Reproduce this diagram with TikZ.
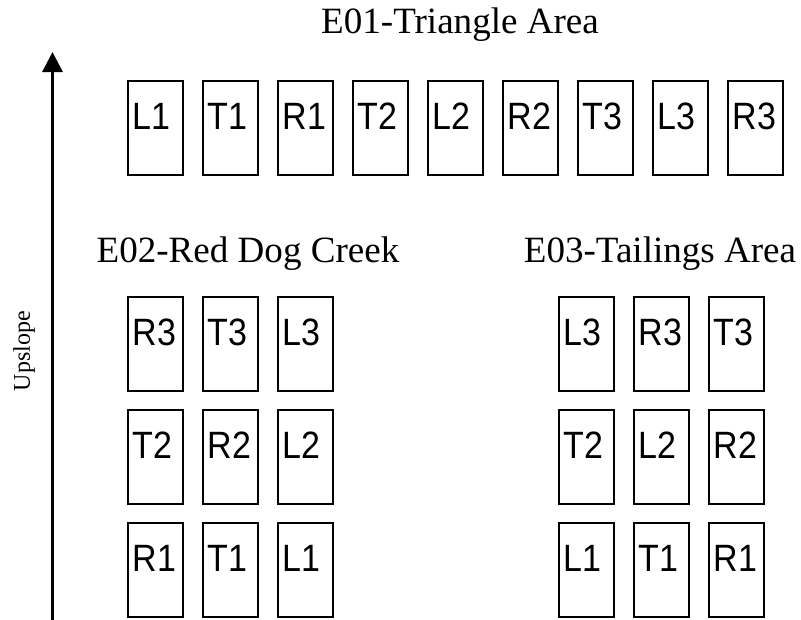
\documentclass[tikz,border=0pt]{standalone}
\usepackage{fontspec}
\setmainfont{Liberation Serif}
\newfontfamily\labfont{Liberation Sans}
\usetikzlibrary{arrows.meta}
\tikzset{
  plotbox/.style={draw=black, line width=1.2pt, rectangle, anchor=north west,
    inner xsep=3.6pt, inner ysep=0pt, text width=34.2pt, align=left,
    text height=36.75pt, text depth=33.75pt,
    font=\labfont\fontsize{25.5}{25.5}\selectfont},
  titletext/.style={font=\fontsize{27.8}{28}\selectfont, anchor=base},
  sidetext/.style={font=\fontsize{18}{18}\selectfont, rotate=90},
  slopearrow/.style={line width=2.2pt, -{Triangle[length=15pt,width=15pt]}}
}
\newcommand{\lab}[1]{\scalebox{1}[1.12]{#1}}
\begin{document}
\begin{tikzpicture}[x=0.75pt,y=-0.75pt]
\useasboundingbox (0,0) rectangle (801,619);
% titles
\node[titletext] (t1) at (460,33) {E01-Triangle Area};
\node[titletext] (t2) at (248,262) {E02-Red Dog Creek};
\node[titletext] (t3) at (660,262) {E03-Tailings Area};
% upslope arrow
\coordinate (abot) at (52.5,621);
\coordinate (atop) at (52.5,52);
\draw[slopearrow] (abot) -- (atop);
\node[sidetext] (up) at (24,351) {Upslope};
% E01 row
\node[plotbox] (a1) at (127,80) {\lab{L1}};
\node[plotbox] (a2) at (202,80) {\lab{T1}};
\node[plotbox] (a3) at (277,80) {\lab{R1}};
\node[plotbox] (a4) at (352,80) {\lab{T2}};
\node[plotbox] (a5) at (427,80) {\lab{L2}};
\node[plotbox] (a6) at (502,80) {\lab{R2}};
\node[plotbox] (a7) at (577,80) {\lab{T3}};
\node[plotbox] (a8) at (652,80) {\lab{L3}};
\node[plotbox] (a9) at (727,80) {\lab{R3}};
% E02 grid
\node[plotbox] (b1) at (127,296) {\lab{R3}};
\node[plotbox] (b2) at (202,296) {\lab{T3}};
\node[plotbox] (b3) at (277,296) {\lab{L3}};
\node[plotbox] (b4) at (127,409) {\lab{T2}};
\node[plotbox] (b5) at (202,409) {\lab{R2}};
\node[plotbox] (b6) at (277,409) {\lab{L2}};
\node[plotbox] (b7) at (127,522) {\lab{R1}};
\node[plotbox] (b8) at (202,522) {\lab{T1}};
\node[plotbox] (b9) at (277,522) {\lab{L1}};
% E03 grid
\node[plotbox] (c1) at (558,296) {\lab{L3}};
\node[plotbox] (c2) at (633,296) {\lab{R3}};
\node[plotbox] (c3) at (708,296) {\lab{T3}};
\node[plotbox] (c4) at (558,409) {\lab{T2}};
\node[plotbox] (c5) at (633,409) {\lab{L2}};
\node[plotbox] (c6) at (708,409) {\lab{R2}};
\node[plotbox] (c7) at (558,522) {\lab{L1}};
\node[plotbox] (c8) at (633,522) {\lab{T1}};
\node[plotbox] (c9) at (708,522) {\lab{R1}};
\end{tikzpicture}
\end{document}
